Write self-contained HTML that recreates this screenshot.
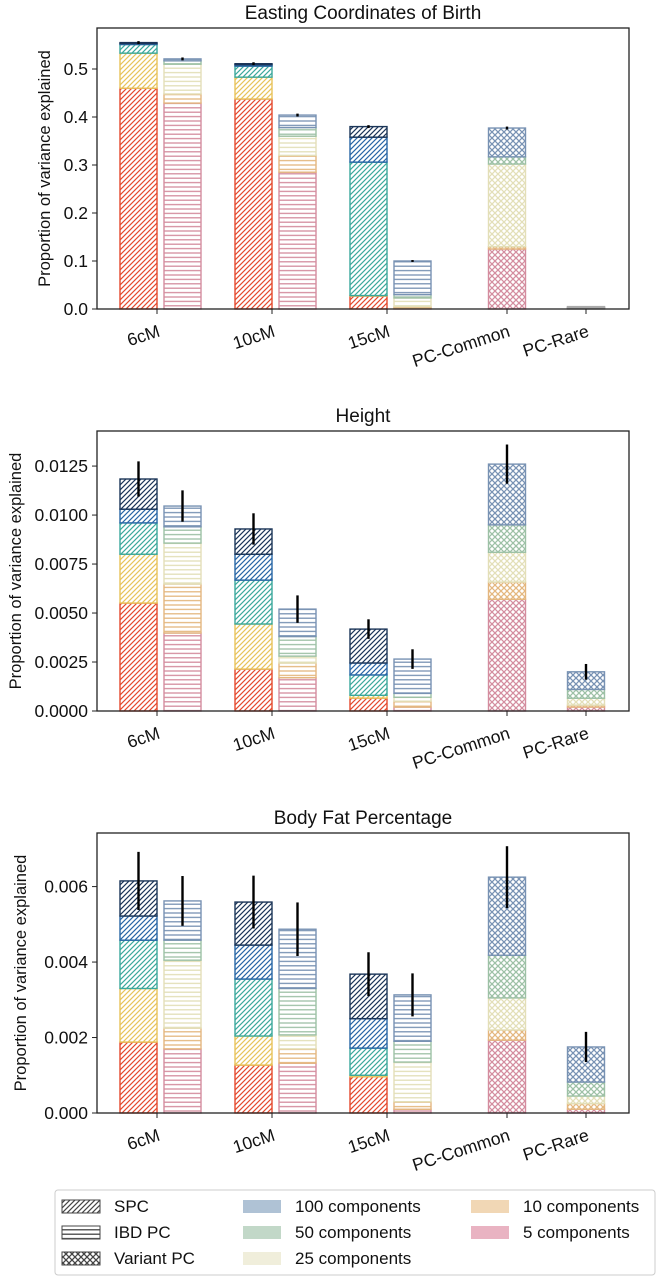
<!DOCTYPE html>
<html><head><meta charset="utf-8"><style>
html,body{margin:0;padding:0;background:#fff;}
svg{display:block;font-family:"Liberation Sans",Arial,sans-serif;}
</style></head><body>
<svg id="fig" width="661" height="1280" viewBox="0 0 661 1280" xmlns="http://www.w3.org/2000/svg">
<defs id="defs"></defs>
<g id="legend">
  <rect x="55" y="1190" width="600" height="85" rx="3" fill="#fff" stroke="#ccc" stroke-width="1"/>
</g>
</svg>
<script>
// ---- data ----
const categories = ["6cM","10cM","15cM","PC-Common","PC-Rare"];
const componentLevels = ["5","10","25","50","100"];
const panelTitles = ["Easting Coordinates of Birth","Height","Body Fat Percentage"];
// cumulative stacked values per component level [5,10,25,50,100]
const easting_spc = [[0.46,0.533,0.551,0.553,0.555],[0.4375,0.483,0.506,0.509,0.511],[0.027,0.028,0.306,0.358,0.38]];
const easting_ibd = [[0.429,0.448,0.51,0.517,0.521],[0.285,0.32,0.36,0.378,0.404],[0.002,0.005,0.023,0.03,0.1]];
const easting_var = [[0.125,0.13,0.302,0.317,0.377],[0.001,0.002,0.003,0.004,0.005]];
const easting_spc_err = [0.003,0.003,0.003];
const easting_ibd_err = [0.003,0.003,0.002];
const easting_var_err = [0.003,0.0];
const height_spc = [[0.00551,0.0080,0.0096,0.0103,0.01184],[0.00214,0.00444,0.00668,0.0080,0.00929],[0.00066,0.0008,0.00184,0.00245,0.00418]];
const height_ibd = [[0.00398,0.00648,0.00857,0.0094,0.01046],[0.0017,0.00245,0.0028,0.0038,0.0052],[0.0002,0.0005,0.0007,0.0009,0.00265]];
const height_var = [[0.0057,0.00658,0.0081,0.0095,0.0126],[0.0002,0.0003,0.00065,0.0011,0.002]];
const height_spc_err = [0.0009,0.0008,0.0005];
const height_ibd_err = [0.0008,0.0007,0.0005];
const height_var_err = [0.001,0.0004];
const fat_spc = [[0.00188,0.0033,0.00458,0.00522,0.00615],[0.00127,0.00204,0.00355,0.00445,0.00559],[0.00096,0.001,0.00172,0.0025,0.00368]];
const fat_ibd = [[0.0017,0.00225,0.00405,0.00458,0.00562],[0.00132,0.0017,0.00207,0.0033,0.00487],[0.0001,0.0003,0.00135,0.0019,0.00313]];
const fat_var = [[0.00193,0.0022,0.00305,0.00418,0.00625],[0.0001,0.00025,0.00045,0.00082,0.00175]];
const fat_spc_err = [0.00077,0.0007,0.00058];
const fat_ibd_err = [0.00066,0.00071,0.00057];
const fat_var_err = [0.00082,0.0004];
const easting_ticks = ["0.0","0.1","0.2","0.3","0.4","0.5"];
const height_ticks = ["0.0000","0.0025","0.0050","0.0075","0.0100","0.0125"];
const fat_ticks = ["0.000","0.002","0.004","0.006"];

// ---- style ----
const NS="http://www.w3.org/2000/svg";
const svg=document.getElementById('fig');
const defs=document.getElementById('defs');
const spcColors=["#e5492d","#e8c35a","#3ba99c","#2866a6","#1b3558"];
const pcColors=["#d48d9f","#e4b77f","#e3dfb8","#9dc1a6","#7892b3"];
function mk(tag,attrs,parent){const e=document.createElementNS(NS,tag);for(const k in attrs)e.setAttribute(k,attrs[k]);(parent||svg).appendChild(e);return e;}
const patCache={};
function pattern(kind,color){
  const id=kind+color.slice(1);
  if(patCache[id])return id;patCache[id]=1;
  let p;
  if(kind==='d'){p=mk('pattern',{id:id,patternUnits:'userSpaceOnUse',width:5,height:5},defs);
    mk('rect',{width:5,height:5,fill:'#fff'},p);
    mk('path',{d:'M-1,6 L6,-1 M-1,1 L1,-1 M4,6 L6,4',stroke:color,'stroke-width':1.2},p);}
  else if(kind==='h'){p=mk('pattern',{id:id,patternUnits:'userSpaceOnUse',width:4,height:4.4},defs);
    mk('rect',{width:4,height:4.4,fill:'#fff'},p);
    mk('line',{x1:0,y1:2.2,x2:4,y2:2.2,stroke:color,'stroke-width':1.3},p);}
  else {p=mk('pattern',{id:id,patternUnits:'userSpaceOnUse',width:6,height:6},defs);
    mk('rect',{width:6,height:6,fill:'#fff'},p);
    mk('path',{d:'M0,0 L6,6 M6,0 L0,6',stroke:color,'stroke-width':1.3},p);}
  return id;
}
const tickX=[157,272,387,507,586];
const BW=37;
const panels=[
 {title:panelTitles[0],top:28,bottom:309,max:0.5854,ticks:easting_ticks,step:0.1,spc:easting_spc,ibd:easting_ibd,vr:easting_var,se:easting_spc_err,ie:easting_ibd_err,ve:easting_var_err,key:'easting',ylx:44},
 {title:panelTitles[1],top:431,bottom:711,max:0.01429,ticks:height_ticks,step:0.0025,spc:height_spc,ibd:height_ibd,vr:height_var,se:height_spc_err,ie:height_ibd_err,ve:height_var_err,key:'height',ylx:15},
 {title:panelTitles[2],top:833,bottom:1113,max:0.00742,ticks:fat_ticks,step:0.002,spc:fat_spc,ibd:fat_ibd,vr:fat_var,se:fat_spc_err,ie:fat_ibd_err,ve:fat_var_err,key:'body-fat',ylx:20}
];
panels.forEach((P,pi)=>{
  const g=mk('g',{});
  
  
  const y=v=>P.bottom-(v/P.max)*(P.bottom-P.top);
  const t=mk('text',{x:363,y:P.top-9,'text-anchor':'middle','font-size':19,fill:'#111'},g);t.textContent=P.title;
  
  
  const yl=mk('text',{transform:`translate(${P.ylx+6},${(P.top+P.bottom)/2}) rotate(-90)`,'text-anchor':'middle','font-size':16.5,fill:'#111'},g);
  yl.textContent='Proportion of variance explained';
  
  
  P.ticks.forEach((lab,i)=>{
    const yy=y(i*P.step);
    mk('line',{x1:92,y1:yy,x2:97,y2:yy,stroke:'#222','stroke-width':1},g);
    const tt=mk('text',{x:88,y:yy+6,'text-anchor':'end','font-size':17.5,fill:'#111'},g);tt.textContent=lab;
    
    
  });
  function stack(vals,x,kind,colors,name){
    let prev=0;
    vals.forEach((v,k)=>{
      const col=(pi===0&&name==='PC-Rare')?'#aaaaaa':colors[k];
      const r=mk('rect',{x:x,y:y(v),width:BW,height:Math.max(0,y(prev)-y(v)),fill:`url(#${pattern(kind,col)})`,stroke:col,'stroke-width':1.4},g);
      
      
      prev=v;
    });
  }
  function err(x,v,e){
    if(e<=0)return;
    const l=mk('line',{x1:x,y1:y(v+e),x2:x,y2:y(v-e),stroke:'#000','stroke-width':2.4},g);
    
    
  }
  for(let c=0;c<3;c++){
    const tx=tickX[c];
    stack(P.spc[c],tx-BW,'d',spcColors,categories[c]+'-spc');
    stack(P.ibd[c],tx+7,'h',pcColors,categories[c]+'-ibd');
    err(tx-BW/2,P.spc[c][4],P.se[c]);
    err(tx+7+BW/2,P.ibd[c][4],P.ie[c]);
  }
  for(let c=0;c<2;c++){
    const tx=tickX[3+c];
    stack(P.vr[c],tx-BW/2,'x',pcColors,categories[3+c]);
    err(tx,P.vr[c][4],P.ve[c]);
  }
  mk('rect',{x:97,y:P.top,width:532,height:P.bottom-P.top,fill:'none',stroke:'#222','stroke-width':1.3},g);
  categories.forEach((c,i)=>{
    mk('line',{x1:tickX[i],y1:P.bottom,x2:tickX[i],y2:P.bottom+5,stroke:'#222','stroke-width':1},g);
    const tl=mk('text',{transform:`translate(${tickX[i]+4},${P.bottom+27}) rotate(-18)`,'text-anchor':'end','font-size':17.5,fill:'#111'},g);
    tl.textContent=c;
    
    
  });
});
// legend
const lg=document.getElementById('legend');
const legItems=[
 {x:62,y:1206,pat:pattern('d','#444444'),lab:'SPC'},
 {x:62,y:1232,pat:pattern('h','#444444'),lab:'IBD PC'},
 {x:62,y:1258,pat:pattern('x','#444444'),lab:'Variant PC'},
 {x:243,y:1206,fill:'#afc2d5',lab:'100 components'},
 {x:243,y:1232,fill:'#c2d8c8',lab:'50 components'},
 {x:243,y:1258,fill:'#f0eedb',lab:'25 components'},
 {x:471,y:1206,fill:'#f1d7b5',lab:'10 components'},
 {x:471,y:1232,fill:'#e9b3c2',lab:'5 components'}
];
legItems.forEach(it=>{
  const r=mk('rect',{x:it.x,y:it.y-6,width:38,height:13,fill:it.pat?`url(#${it.pat})`:it.fill,stroke:it.pat?'#444':'none','stroke-width':1},lg);
  
  
  const t=mk('text',{x:it.x+52,y:it.y+6,'font-size':17,fill:'#111'},lg);t.textContent=it.lab;
  
  
});
</script>
</body></html>
